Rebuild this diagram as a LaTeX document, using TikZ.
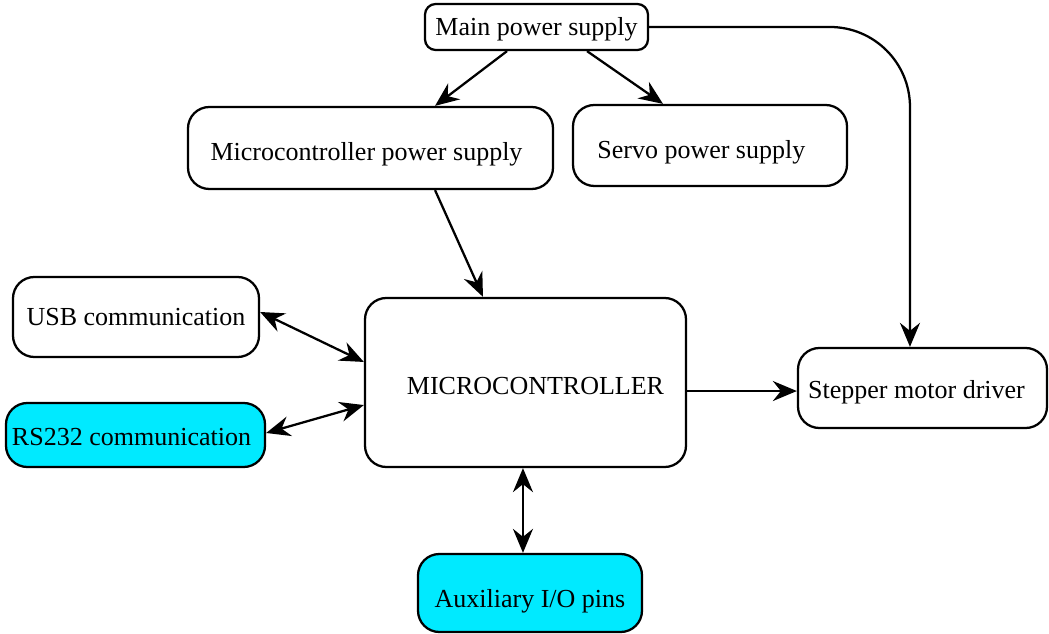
\documentclass[tikz,border=0pt]{standalone}
\usepackage{fontspec}
\setmainfont{Liberation Serif}
\usetikzlibrary{arrows.meta}
\definecolor{boxcyan}{RGB}{0,234,255}
\newcommand{\lowr}[2]{\raisebox{-#1}[\height][\depth]{#2}}
\begin{document}
\begin{tikzpicture}[x=0.75pt,y=-0.75pt,
  box/.style={draw=black, line width=1.7pt, rounded corners=16pt, fill=white,
    inner sep=0pt, align=center, font=\fontsize{19.5}{23}\selectfont},
  cbox/.style={box, fill=boxcyan},
  arr/.style={line width=1.7pt, -{Stealth[length=18pt,width=15pt,inset=6pt]}},
  darr/.style={line width=1.7pt, {Stealth[length=18pt,width=15pt,inset=6pt]}-{Stealth[length=18pt,width=15pt,inset=6pt]}}]
\useasboundingbox (0,0) rectangle (1049,634);
\node[box, rounded corners=8pt, minimum width=167.25pt, minimum height=34.5pt] (main) at (536.5,27) {\lowr{2pt}{Main power supply}};
\node[box, minimum width=273.75pt, minimum height=61.5pt] (mps) at (370.5,148) {\lowr{4.5pt}{Microcontroller power supply}\hspace*{6pt}};
\node[box, minimum width=205.5pt, minimum height=60.75pt] (servo) at (710,145.5) {\lowr{5pt}{Servo power supply}\hspace*{13pt}};
\node[box, minimum width=184.5pt, minimum height=60pt] (usb) at (136,317) {USB communication};
\node[cbox, minimum width=194.25pt, minimum height=48pt] (rs) at (135.5,435) {\lowr{1.5pt}{RS232 communication}\hspace*{6pt}};
\node[box, minimum width=240.75pt, minimum height=126.75pt] (mcu) at (525.5,382.5) {\hspace*{15pt}\lowr{2.5pt}{MICROCONTROLLER}};
\node[box, minimum width=186.75pt, minimum height=60pt] (step) at (922.5,388) {\lowr{3.5pt}{Stepper motor driver}\hspace*{9pt}};
\node[cbox, minimum width=168pt, minimum height=58.5pt] (aux) at (530,593) {\lowr{6.5pt}{Auxiliary I/O pins}};

\draw[arr] ([xshift=-22.1pt]main.south) -- ([xshift=48.4pt]mps.north);
\draw[arr] ([xshift=37.9pt]main.south) -- ([xshift=-35.25pt]servo.north);
\draw[arr, rounded corners=60pt] (main.east) -| ([xshift=-9.4pt]step.north);
\draw[arr] ([xshift=48.4pt]mps.south) -- ([xshift=-31.9pt]mcu.north);
\draw[darr] ([yshift=3.75pt]usb.east) -- ([yshift=15.4pt]mcu.west);
\draw[darr] ([yshift=1.5pt]rs.east) -- ([yshift=-16.9pt]mcu.west);
\draw[arr] ([yshift=-6.4pt]mcu.east) coordinate (a) -- (a -| step.west);
\draw[darr] ([xshift=-1.9pt]mcu.south) coordinate (b) -- (b |- aux.north);
\end{tikzpicture}
\end{document}
